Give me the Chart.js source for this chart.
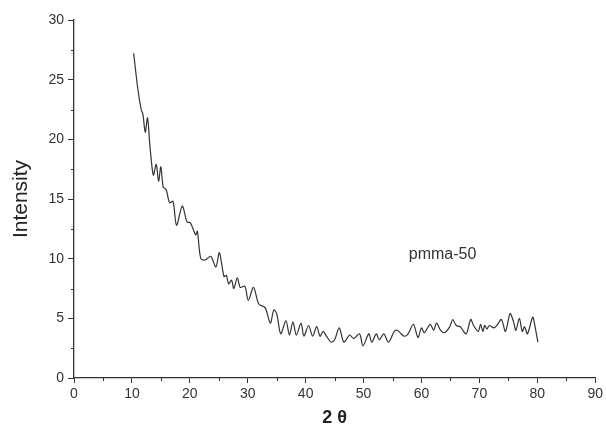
<!DOCTYPE html>
<html lang="en">
<head>
<meta charset="UTF-8">
<title>pmma-50 XRD</title>
<script src="https://cdn.jsdelivr.net/npm/chart.js@4.4.0/dist/chart.umd.min.js"></script>
<style>
  html, body { margin: 0; padding: 0; background: #fff; }
</style>
</head>
<body>
<canvas id="xrd" width="606" height="433"></canvas>
<script>
// 2 theta positions (deg) and intensity
const twoTheta = [
  10.3, 11.0, 11.6, 11.9, 12.3, 12.7, 13.1, 13.7, 14.2, 14.6, 15.0, 15.4, 15.9,
  16.5, 17.1, 17.7, 18.7, 19.5, 20.1, 21.0, 21.3, 21.9, 22.7, 23.6, 24.5, 25.1,
  25.9, 26.3, 26.7, 27.2, 27.6, 28.2, 28.7, 29.5, 30.1, 31.0, 31.9, 33.0, 33.9,
  34.5, 35.0, 35.7, 36.6, 37.2, 37.8, 38.4, 39.2, 39.7, 40.5, 41.2, 41.9, 42.5,
  43.0, 43.6, 44.4, 45.0, 45.8, 46.6, 47.6, 48.3, 49.3, 49.9, 50.9, 51.4, 52.2,
  52.7, 53.5, 54.3, 55.3, 55.8, 56.3, 57.0, 57.7, 58.6, 59.4, 60.0, 60.5, 61.5,
  62.1, 62.6, 63.3, 64.0, 64.9, 65.4, 66.0, 66.7, 67.7, 68.5, 69.0, 69.8, 70.2,
  70.6, 70.9, 71.3, 71.7, 72.5, 73.0, 73.8, 74.5, 75.3, 75.9, 76.3, 76.9, 77.4,
  77.8, 78.3, 79.2, 79.5, 80.1
];
const intensity = [
  27.2, 24.3, 22.5, 22.1, 20.6, 21.8, 19.5, 17.0, 17.9, 16.5, 17.7, 16.0, 15.8,
  14.7, 14.8, 12.8, 14.4, 13.1, 13.0, 12.0, 12.3, 10.0, 9.9, 10.2, 9.3, 10.5,
  8.5, 8.6, 7.9, 8.2, 7.5, 8.4, 7.6, 7.7, 6.5, 7.6, 6.2, 5.9, 4.6,
  5.7, 5.4, 3.7, 4.8, 3.6, 4.7, 3.6, 4.6, 3.5, 4.4, 3.5, 4.3, 3.5,
  3.9, 3.5, 3.0, 3.2, 4.2, 3.0, 3.6, 3.3, 3.7, 2.7, 3.7, 3.0, 3.7,
  3.2, 3.7, 3.0, 3.9, 4.0, 3.8, 3.5, 3.7, 4.5, 3.4, 4.2, 3.8, 4.5,
  4.0, 4.6, 4.0, 3.8, 4.3, 4.9, 4.4, 4.3, 3.7, 4.9, 4.4, 3.9, 4.5,
  3.9, 4.4, 4.1, 4.4, 4.2, 4.4, 4.9, 3.9, 5.4, 4.7, 4.0, 5.0, 3.9,
  4.3, 3.7, 5.1, 4.6, 3.0
];
const xMinorTicks = [5, 15, 25, 35, 45, 55, 65, 75, 85];
const yMinorTicks = [2.5, 7.5, 12.5, 17.5, 22.5, 27.5];
const sampleLabel = 'pmma-50';
const labelAt = { x: 57.8, y: 10.3 };

const ink = '#333';

// short minor ticks + the sample label, placed through the chart scales
const extras = {
  id: 'extras',
  afterDraw(chart) {
    const { ctx, scales: { x, y } } = chart;
    ctx.save();
    ctx.strokeStyle = ink;
    ctx.lineWidth = 1;
    ctx.beginPath();
    xMinorTicks.forEach(v => {
      const px = Math.round(x.getPixelForValue(v)) + 0.5;
      ctx.moveTo(px, y.bottom);
      ctx.lineTo(px, y.bottom + 3);
    });
    yMinorTicks.forEach(v => {
      const py = Math.round(y.getPixelForValue(v)) + 0.5;
      ctx.moveTo(x.left - 3, py);
      ctx.lineTo(x.left, py);
    });
    ctx.stroke();

    ctx.fillStyle = ink;
    ctx.font = '16px "Liberation Sans", Arial, sans-serif';
    ctx.textBaseline = 'middle';
    ctx.fillText(sampleLabel, x.getPixelForValue(labelAt.x), y.getPixelForValue(labelAt.y));
    ctx.restore();
  }
};

new Chart(document.getElementById('xrd'), {
  type: 'line',
  data: {
    datasets: [{
      data: twoTheta.map((t, i) => ({ x: t, y: intensity[i] })),
      borderColor: ink,
      borderWidth: 1.2,
      pointRadius: 0,
      tension: 0.3,
      fill: false
    }]
  },
  options: {
    responsive: false,
    devicePixelRatio: 1,
    animation: false,
    layout: { padding: { top: 20, right: 3, left: 0, bottom: 0 } },
    plugins: { legend: { display: false }, tooltip: { enabled: false } },
    scales: {
      x: {
        type: 'linear',
        min: 0,
        max: 90,
        afterFit: s => { s.height = 55; },
        ticks: {
          stepSize: 10,
          color: ink,
          padding: 3,
          font: { family: '"Liberation Sans", Arial, sans-serif', size: 14 }
        },
        grid: { drawOnChartArea: false, tickLength: 5, color: ink, lineWidth: 1 },
        border: { color: ink, width: 1.3 },
        title: {
          display: true,
          text: '2 θ',
          color: '#222',
          padding: { top: 0, bottom: 4 },
          font: { family: '"Liberation Sans", Arial, sans-serif', size: 18, weight: 'bold' }
        }
      },
      y: {
        min: 0,
        max: 30,
        afterFit: s => { s.width = 74; },
        ticks: {
          stepSize: 5,
          color: ink,
          padding: 4,
          font: { family: '"Liberation Sans", Arial, sans-serif', size: 14 }
        },
        grid: { drawOnChartArea: false, tickLength: 6, color: ink, lineWidth: 1 },
        border: { color: ink, width: 1.3 },
        title: {
          display: true,
          text: 'Intensity',
          color: '#222',
          padding: { top: 9, bottom: 0 },
          font: { family: '"Liberation Sans", Arial, sans-serif', size: 21 }
        }
      }
    }
  },
  plugins: [extras]
});
</script>
</body>
</html>
